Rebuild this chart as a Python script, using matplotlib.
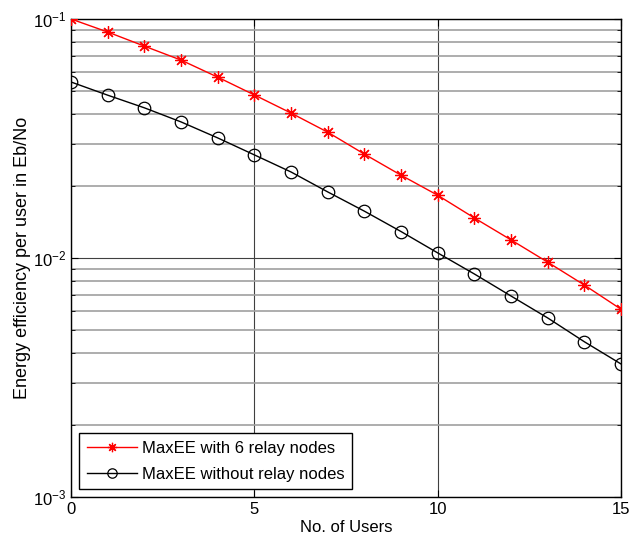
import matplotlib
matplotlib.use("Agg")
import matplotlib.pyplot as plt
from matplotlib.ticker import LogLocator, NullFormatter

plt.rcParams['font.family'] = ['Liberation Sans', 'DejaVu Sans']
plt.rcParams['mathtext.fontset'] = 'custom'
plt.rcParams['mathtext.rm'] = 'Liberation Sans'
plt.rcParams['mathtext.it'] = 'Liberation Sans:italic'
plt.rcParams['mathtext.bf'] = 'Liberation Sans:bold'
plt.rcParams['axes.unicode_minus'] = False

users = list(range(16))
ee_relay = [0.1, 0.0882, 0.077, 0.0673, 0.0571, 0.0481, 0.0404, 0.0336,
            0.0272, 0.0222, 0.0183, 0.0147, 0.0119, 0.0096, 0.0077, 0.0061]
ee_norelay = [0.0545, 0.048, 0.0425, 0.0371, 0.0318, 0.0270, 0.0229, 0.0189,
              0.0157, 0.0129, 0.0105, 0.00857, 0.00693, 0.00561, 0.00446, 0.0036]
labels = ["MaxEE with 6 relay nodes", "MaxEE without relay nodes"]

fig = plt.figure(figsize=(6.41, 5.49), dpi=100)
ax = fig.add_axes([0.1108, 0.0947, 0.8582, 0.8707])

ax.plot(users, ee_relay, color='red', marker=(8, 2, 0), markersize=9, linewidth=1,
        markeredgewidth=0.9, label=labels[0], zorder=3)
ax.plot(users, ee_norelay, color='black', marker='o', markersize=9, linewidth=1,
        markerfacecolor='none', markeredgewidth=0.9, label=labels[1], zorder=3)

ax.set_yscale('log')
ax.set_xlim(0, 15)
ax.set_ylim(1e-3, 1e-1)
ax.set_xticks([0, 5, 10, 15])
ax.yaxis.set_major_locator(LogLocator(base=10, numticks=10))
ax.yaxis.set_minor_locator(LogLocator(base=10, subs=range(2, 10), numticks=20))
ax.yaxis.set_minor_formatter(NullFormatter())

ax.grid(True, which='major', axis='both', color='#404040', linewidth=0.8)
ax.grid(True, which='minor', axis='y', color='#a0a0a0', linewidth=1.2)
ax.set_axisbelow(True)

ax.tick_params(which='both', direction='in', top=True, right=True, labelsize=12)
ax.tick_params(which='major', length=5)
ax.tick_params(which='minor', length=3)
for s in ax.spines.values():
    s.set_linewidth(1.0)
    s.set_color('black')

ax.set_xlabel("No. of Users", fontsize=12, labelpad=2)
ax.set_ylabel("Energy efficiency per user in Eb/No", fontsize=13, labelpad=1)

leg = ax.legend(loc='lower left', fontsize=12, fancybox=False, edgecolor='black',
                framealpha=1, borderaxespad=0, borderpad=0.45, labelspacing=0.65,
                handlelength=3.0, handletextpad=0.35, markerscale=0.75,
                bbox_to_anchor=(79 / 641, 60 / 549), bbox_transform=fig.transFigure)
leg.get_frame().set_linewidth(1.0)

fig.savefig("out.png", dpi=100)
